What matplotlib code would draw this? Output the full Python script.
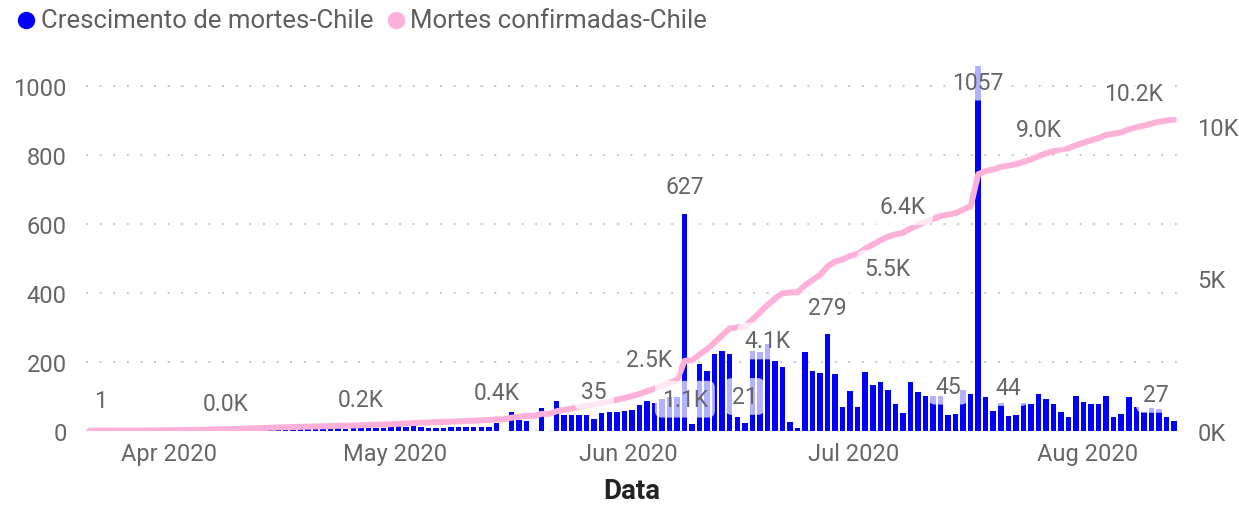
import numpy as np
import pandas as pd
import matplotlib
matplotlib.use('Agg')
import matplotlib.pyplot as plt
import matplotlib.dates as mdates
from matplotlib.lines import Line2D

plt.rcParams['font.family'] = ['Roboto', 'DejaVu Sans']

## data (daily from 2020-03-21 to 2020-08-12)
start_date = '2020-03-21'
daily_deaths = [1, 0, 1, 0, 1, 1, 1, 2, 1, 0, 4,
                3, 4, 3, 5, 5, 3, 5, 5, 8, 8, 8, 7, 12, 10, 10,
                6, 6, 7, 6, 6, 7, 6, 7, 6, 7, 8, 7, 9, 8, 10, 13, 12,
                14, 10, 8, 8, 8, 10, 12, 10, 10, 10, 12, 22,
                0, 53, 31, 29, 0, 66, 0, 87, 45, 45, 45, 45, 35, 51,
                55, 54, 58, 60, 75, 87, 81, 93, 98, 99,
                627, 19, 193, 174, 222, 232, 221, 40, 21,
                232, 228, 251, 203, 185, 24, 7, 227, 174, 167, 279, 163,
                68, 115, 68, 169, 132, 142, 117, 77, 52, 140, 111, 100, 100, 100, 45, 47, 118, 105,
                1057, 99, 58, 80, 44, 45, 80, 77, 106, 92, 77, 55, 39, 100, 82, 77, 77, 100, 39, 48,
                97, 68, 55, 65, 63, 39, 27]
total_deaths = [1, 1, 2, 2, 3, 4, 5, 7, 8, 8, 12,
                15, 19, 22, 27, 32, 35, 40, 45, 53, 61, 69, 76, 88, 98, 108,
                114, 120, 127, 133, 139, 146, 152, 159, 165, 172, 180, 187, 196, 204, 214, 227, 239,
                253, 263, 271, 279, 287, 297, 309, 319, 329, 339, 351, 373,
                373, 426, 457, 486, 486, 552, 552, 639, 684, 729, 774, 819, 854, 905,
                960, 1014, 1072, 1132, 1207, 1294, 1375, 1468, 1566, 1665,
                2292, 2311, 2504, 2678, 2900, 3132, 3353, 3393, 3414,
                3646, 3874, 4125, 4328, 4513, 4537, 4544, 4771, 4945, 5112, 5391, 5554,
                5622, 5737, 5805, 5974, 6106, 6248, 6365, 6442, 6494, 6634, 6745, 6845, 6945, 7045,
                7090, 7137, 7255, 7360,
                8417, 8516, 8574, 8654, 8698, 8743, 8823, 8900, 9006, 9098, 9175, 9230, 9269, 9369,
                9451, 9528, 9605, 9705, 9744, 9792, 9889, 9957, 10012, 10077, 10140, 10179, 10206]

series_names = ['Crescimento de mortes-Chile', 'Mortes confirmadas-Chile']
tick_dates = ['2020-04-01', '2020-05-01', '2020-06-01', '2020-07-01', '2020-08-01']
tick_labels = ['Apr 2020', 'May 2020', 'Jun 2020', 'Jul 2020', 'Aug 2020']
left_ticks = [0, 200, 400, 600, 800, 1000]
right_ticks = [0, 5000, 10000]
right_labels = ['0K', '5K', '10K']

bar_lab_idx = [0, 67, 79, 87, 98, 114, 118, 122, 144]
bar_lab_txt = ['1', '35', '627', '21', '279', '45', '1057', '44', '27']
line_lab_idx = [18, 36, 54, 72, 81, 90, 99, 108, 126, 144]
line_lab_txt = ['0.0K', '0.2K', '0.4K', '1.1K', '2.5K', '4.1K', '5.5K', '6.4K', '9.0K', '10.2K']

# label offsets in pixels (layout only)
bar_lab_off = [(11, 30), (0, 27), (0, 28), (0, 27), (0, 27), (0, 29), (0, -16), (0, 28), (-18, 27)]
line_lab_off = [(0, 26), (0, 26), (0, 27), (53, -3), (-51, -5), (0, -36), (52, -7), (0, 26), (0, 27), (-40, 26)]

dates = pd.date_range(start_date, periods=len(daily_deaths), freq='D')
xnum = mdates.date2num(dates)

blue = '#0000FF'
pink = '#FDB0D8'
grey = '#666666'

W, H = 1239, 506
fig = plt.figure(figsize=(W/100, H/100), dpi=100)
ax = fig.add_axes([86/W, 1-431.7/H, (1177.7-86)/W, (431.7-67)/H])
ax2 = ax.twinx()

ax.bar(xnum, daily_deaths, width=0.73, color=blue, zorder=2)
ax2.plot(xnum, total_deaths, color=pink, lw=4.3, solid_capstyle='round', zorder=3)

ax.set_xlim(xnum[0] - 0.5, xnum[-1] + 0.5)
ax.set_ylim(0, 1057.4)
ax2.set_ylim(0, 11968)

ax.set_yticks(left_ticks)
ax.set_yticklabels([str(t) for t in left_ticks])
ax2.set_yticks(right_ticks)
ax2.set_yticklabels(right_labels)
ax.set_xticks(mdates.date2num(pd.to_datetime(tick_dates)) - 0.5)
ax.set_xticklabels(tick_labels)

ax.grid(axis='y', color='#C8C6C4', lw=1.4, linestyle=(0, (1, 6)), zorder=0)
ax.set_axisbelow(True)
for a in (ax, ax2):
    for s in a.spines.values():
        s.set_visible(False)
ax.tick_params(axis='y', length=0, pad=14, labelsize=17, labelcolor=grey)
ax.tick_params(axis='x', length=0, pad=8, labelsize=17, labelcolor=grey)
ax2.tick_params(axis='y', length=0, pad=14, labelsize=17, labelcolor=grey)

box = dict(boxstyle='round,pad=0.3', fc='white', ec='none', alpha=0.7)
for i, t, off in zip(bar_lab_idx, bar_lab_txt, bar_lab_off):
    ax2.annotate(t, xy=(xnum[i], daily_deaths[i]), xycoords=ax.transData,
                 xytext=off, textcoords='offset pixels', ha='center', va='center',
                 fontsize=16.5, color=grey, bbox=box, zorder=5)
for i, t, off in zip(line_lab_idx, line_lab_txt, line_lab_off):
    ax2.annotate(t, xy=(xnum[i], total_deaths[i]), xycoords=ax2.transData,
                 xytext=off, textcoords='offset pixels', ha='center', va='center',
                 fontsize=16.5, color=grey, bbox=box, zorder=5)

fig.text(632/W, 1-492/H, 'Data', ha='center', va='center', fontsize=20,
         color='#252423', fontweight='semibold')

# legend drawn by hand to sit like the original
leg_y = 1 - 21/H
for xm, xt, col, name in zip([25.5, 395.5], [41, 410], [blue, pink], series_names):
    fig.add_artist(Line2D([xm/W], [leg_y], transform=fig.transFigure, marker='o',
                          ms=11.5, color=col, ls='none'))
    fig.text(xt/W, leg_y, name, ha='left', va='center', fontsize=18.5, color='#605E5C')

fig.savefig('out.png', dpi=100)
